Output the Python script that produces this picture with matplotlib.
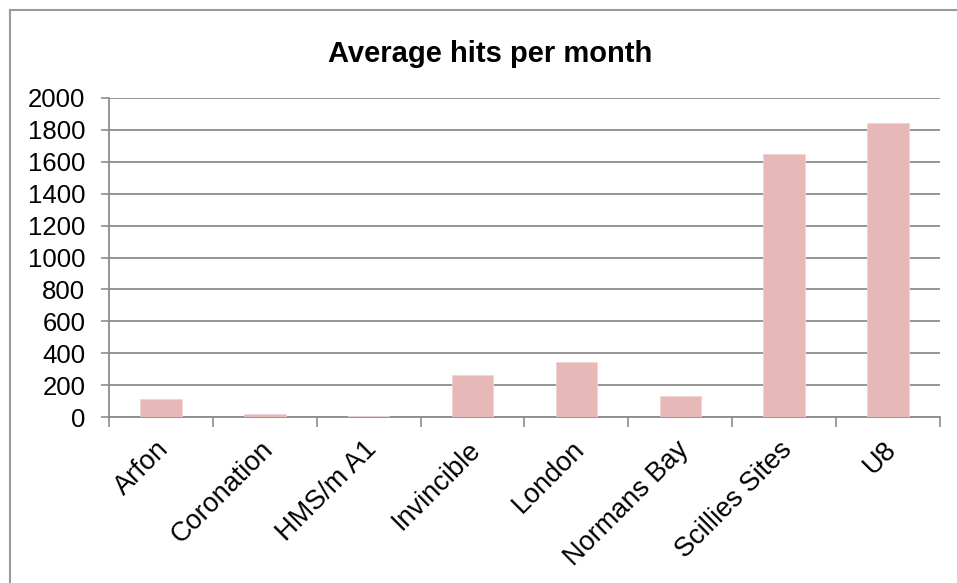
import matplotlib
matplotlib.use("Agg")
import matplotlib.pyplot as plt
from matplotlib.lines import Line2D
from matplotlib.transforms import ScaledTranslation

# Data
sites = ["Arfon", "Coronation", "HMS/m A1", "Invincible", "London",
         "Normans Bay", "Scillies Sites", "U8"]
avg_hits = [117, 20, 6, 262, 348, 134, 1650, 1840]

y_ticks = list(range(0, 2001, 200))

# Colors
bar_color = "#E6B9B8"
grid_color = "#8C8C8C"
border_color = "#9A9A9A"

plt.rcParams["font.family"] = ["Liberation Sans", "DejaVu Sans"]

fig = plt.figure(figsize=(9.57, 5.83), dpi=100, facecolor="white")
ax = fig.add_axes([0.1139, 0.2842, 0.8683, 0.5482])

x = range(len(sites))
ax.bar(x, avg_hits, width=0.4, color=bar_color, edgecolor="#F0D4D3",
       linewidth=0.6, zorder=3)

ax.set_xlim(-0.5, len(sites) - 0.5)
ax.set_ylim(0, 2000)
ax.set_yticks(y_ticks)
ax.tick_params(axis="y", labelsize=18.5, length=6, width=1.2, color=grid_color,
               pad=11)
ax.grid(axis="y", color=grid_color, linewidth=1.3, zorder=0)

# Category labels at bar centres, tick marks on category boundaries
ax.set_xticks(list(x))
ax.set_xticklabels(sites, rotation=45, ha="right", rotation_mode="anchor",
                   fontsize=19.5)
ax.tick_params(axis="x", which="major", length=0, pad=13)
ax.set_xticks([i - 0.5 for i in range(len(sites) + 1)], minor=True)
ax.tick_params(axis="x", which="minor", length=7, width=1.2, color=grid_color)

shift = ScaledTranslation(-5 / 100, -1 / 100, fig.dpi_scale_trans)
for lbl in ax.get_xticklabels():
    lbl.set_transform(lbl.get_transform() + shift)

for side in ["top", "right"]:
    ax.spines[side].set_visible(False)
for side in ["left", "bottom"]:
    ax.spines[side].set_color(grid_color)
    ax.spines[side].set_linewidth(1.3)

fig.text(0.512, 0.907, "Average hits per month", ha="center", va="center",
         fontsize=21, fontweight="bold")

# Chart area frame
fig.add_artist(Line2D([0.0105, 0.0105], [0.0, 0.9828], color=border_color,
                      linewidth=1.5, transform=fig.transFigure))
fig.add_artist(Line2D([0.0105, 1.0], [0.9828, 0.9828], color=border_color,
                      linewidth=1.5, transform=fig.transFigure))

fig.savefig("out.png", dpi=100, facecolor="white")
